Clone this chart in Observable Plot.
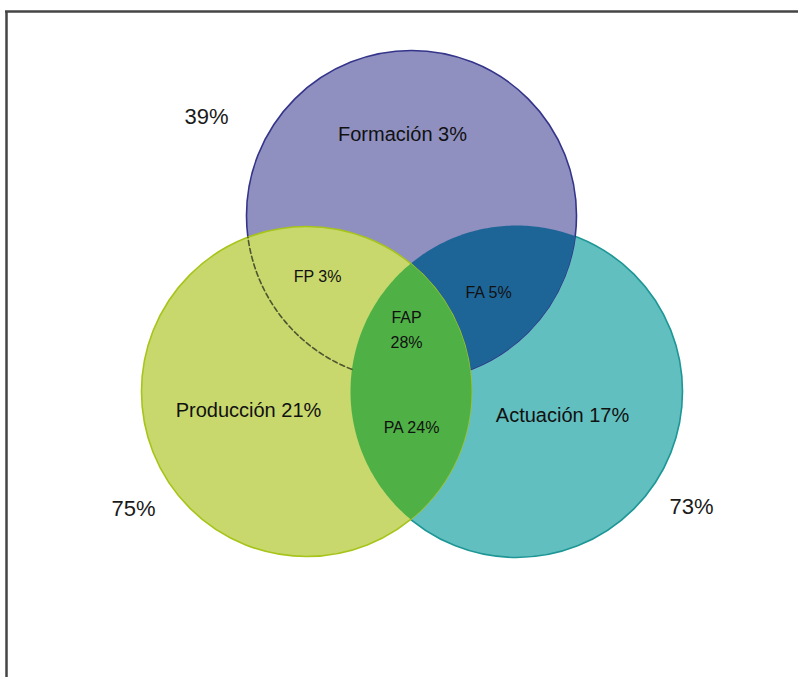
<!DOCTYPE html>
<html>
<head>
<meta charset="utf-8">
<script src="https://cdn.jsdelivr.net/npm/d3@7"></script>
<script src="https://cdn.jsdelivr.net/npm/@observablehq/plot@0.6"></script>
<style>
  html, body { margin: 0; padding: 0; background: #fff; overflow: hidden; }
  #chart svg { display: block; overflow: visible; }
</style>
</head>
<body>
<div id="chart"></div>
<script>
// ---- values ----
const sets = ["Formación", "Producción", "Actuación"];
const onlyPct = [3, 21, 17];          // share only in this set
const totalPct = [39, 75, 73];        // total share of each set
const pairCodes = ["FP", "FA", "PA"];
const pairPct = [3, 5, 24];
const tripleCode = "FAP";
const triplePct = 28;

// ---- layout (chart units) ----
const W = 798, H = 677;
const centerX = [411, 306, 516];
const centerY = [215, 391, 391];
const radius = [165, 165, 166];
const fills = ["#8f90c0", "#c8d86c", "#62bfbf"];
const strokes = ["#34348a", "#a6c41a", "#1e9696"];
const faColor = "#1e6597";
const paColor = "#4fb046";

const circles = sets.map((s, i) => ({set: s, x: centerX[i], y: centerY[i], r: radius[i], fill: fills[i], stroke: strokes[i]}));

function arc(i, a0, a1, n, tag) {
  const pts = [];
  for (let k = 0; k <= n; k++) {
    const t = a0 + (a1 - a0) * k / n;
    pts.push({x: centerX[i] + radius[i] * Math.cos(t), y: centerY[i] + radius[i] * Math.sin(t), tag});
  }
  return pts;
}
function halfAngles(i, j) {
  const dx = centerX[j] - centerX[i], dy = centerY[j] - centerY[i];
  const d = Math.hypot(dx, dy);
  const a = (radius[i] ** 2 - radius[j] ** 2 + d * d) / (2 * d);
  return {base: Math.atan2(dy, dx), alpha: Math.acos(a / radius[i]), baseJ: Math.atan2(-dy, -dx), alphaJ: Math.acos((d - a) / radius[j])};
}
function lens(i, j, tag) {
  const h = halfAngles(i, j);
  return [
    ...arc(i, h.base - h.alpha, h.base + h.alpha, 120, tag),
    ...arc(j, h.baseJ - h.alphaJ, h.baseJ + h.alphaJ, 120, tag)
  ];
}
const faRegion = lens(0, 2, "FA");
const paRegion = lens(1, 2, "PA");
// Formación boundary inside Producción but outside Actuación (dashed)
const hFP = halfAngles(0, 1);
const dashed = arc(0, hFP.base - hFP.alpha, hFP.base + hFP.alpha, 300, "FParc")
  .filter(p => Math.hypot(p.x - centerX[2], p.y - centerY[2]) > radius[2]);

// ---- labels ----
const bigLabelPos = [[206, 116], [133, 508], [691, 506]];
const bigLabels = totalPct.map((v, i) => ({text: `${v}%`, x: bigLabelPos[i][0], y: bigLabelPos[i][1]}));
const setLabelPos = [[402, 134], [248, 410], [562, 415]];
const setLabels = sets.map((s, i) => ({text: `${s} ${onlyPct[i]}%`, x: setLabelPos[i][0], y: setLabelPos[i][1]}));
const pairLabelPos = [[317, 276], [488, 292], [411, 427]];
const smallLabels = pairCodes.map((c, i) => ({text: `${c} ${pairPct[i]}%`, x: pairLabelPos[i][0], y: pairLabelPos[i][1]}));
smallLabels.push({text: tripleCode, x: 406, y: 317});
smallLabels.push({text: `${triplePct}%`, x: 406, y: 342});

const drawOrder = [0, 2, 1];
const font = "Liberation Sans, Arial, sans-serif";

const chart = Plot.plot({
  width: W, height: H,
  margin: 0,
  x: {domain: [0, W], range: [0, W], axis: null},
  y: {domain: [0, H], range: [0, H], axis: null},
  r: {type: "identity"},
  color: {type: "identity"},
  style: {background: "#fff", overflow: "visible"},
  marks: [
    Plot.dot(drawOrder.slice(0, 2).map(i => circles[i]), {x: "x", y: "y", r: "r", fill: "fill", stroke: "stroke", strokeWidth: 1.6, fillOpacity: 1}),
    Plot.line(faRegion, {x: "x", y: "y", fill: faColor, stroke: "none", curve: "linear"}),
    Plot.dot([circles[1]], {x: "x", y: "y", r: "r", fill: "fill", stroke: "stroke", strokeWidth: 1.6, fillOpacity: 1}),
    Plot.line(paRegion, {x: "x", y: "y", fill: paColor, stroke: "none", curve: "linear"}),
    Plot.line(dashed, {x: "x", y: "y", stroke: "#4d5530", strokeWidth: 1.6, strokeDasharray: "5,3"}),
    Plot.ruleX([6], {y1: 11, y2: H + 10, stroke: "#454545", strokeWidth: 2.5}),
    Plot.ruleY([11], {x1: 5, x2: W + 10, stroke: "#454545", strokeWidth: 2.5}),
    Plot.text(bigLabels, {x: "x", y: "y", text: "text", fontSize: 22, fontFamily: font, fill: "#1a1a1a"}),
    Plot.text(setLabels, {x: "x", y: "y", text: "text", fontSize: 20, fontFamily: font, fill: "#111"}),
    Plot.text(smallLabels, {x: "x", y: "y", text: "text", fontSize: 16, fontFamily: font, fill: "#111"})
  ]
});
document.getElementById("chart").appendChild(chart);
</script>
</body>
</html>
